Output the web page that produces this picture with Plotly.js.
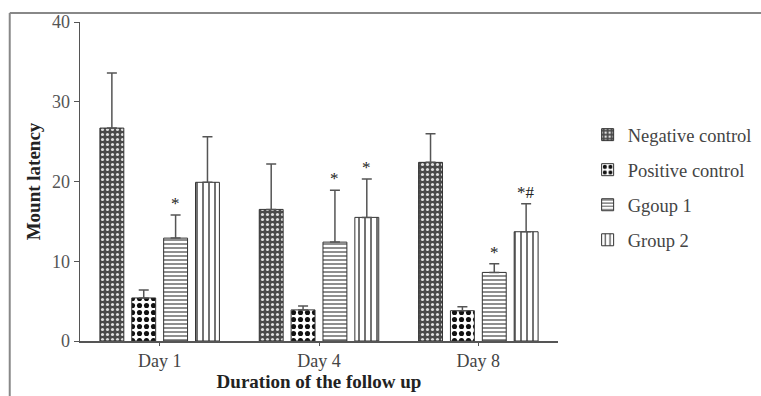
<!DOCTYPE html>
<html>
<head>
<meta charset="utf-8">
<script src="https://cdn.plot.ly/plotly-3.0.1.min.js"></script>
<style>
html,body{margin:0;padding:0;background:#fff;}
#chart{width:761px;height:396px;}
</style>
</head>
<body>
<div id="chart"></div>
<script>
// Data
var days = ["Day 1", "Day 4", "Day 8"];
var seriesNames = ["Negative control", "Positive control", "Ggoup 1", "Group 2"];
var negMean = [26.7, 16.5, 22.4];
var negErr  = [6.9, 5.7, 3.6];
var posMean = [5.4, 3.9, 3.8];
var posErr  = [1.0, 0.5, 0.5];
var g1Mean  = [12.9, 12.4, 8.6];
var g1Err   = [2.9, 6.5, 1.1];
var g2Mean  = [19.9, 15.5, 13.7];
var g2Err   = [5.7, 4.8, 3.5];
var sigG1   = ["*", "*", "*"];
var sigG2   = ["", "*", "*#"];
var yTicks  = [0, 10, 20, 30, 40];

var serif = "Liberation Serif, Times New Roman, serif";

function err(arr){
  return {type:"data", array:arr, arrayminus:arr.map(function(){return 0;}), symmetric:false,
          color:"#555", thickness:1.5, width:5, visible:true};
}

var outline = {color:"#333", width:1};
var traces = [
  {type:"bar", name:seriesNames[0], x:days, y:negMean, error_y:err(negErr), legendgroup:"a",
   marker:{color:"#4a4a4a", line:outline, pattern:{shape:".", fgcolor:"#e0e0e0", bgcolor:"#4a4a4a", size:5, solidity:0.3, fillmode:"replace"}}},
  {type:"bar", name:seriesNames[1], x:days, y:posMean, error_y:err(posErr), legendgroup:"b",
   marker:{color:"#ffffff", line:outline, pattern:{shape:".", fgcolor:"#111", bgcolor:"#fff", size:7, solidity:0.42, fillmode:"replace"}}},
  {type:"bar", name:seriesNames[2], x:days, y:g1Mean, error_y:err(g1Err), legendgroup:"c",
   marker:{color:"#ffffff", line:outline, pattern:{shape:"-", fgcolor:"#444", bgcolor:"#fff", size:4, solidity:0.3, fillmode:"replace"}}},
  {type:"bar", name:seriesNames[3], x:days, y:g2Mean, error_y:err(g2Err), legendgroup:"d",
   marker:{color:"#ffffff", line:outline, pattern:{shape:"|", fgcolor:"#444", bgcolor:"#fff", size:6, solidity:0.25, fillmode:"replace"}}}
];

// significance markers placed above error bars, computed from data
var annotations = [];
var nSeries = 4, slotOffset = function(k){ return (k - (nSeries-1)/2) * 0.8/nSeries; };
days.forEach(function(d, i){
  if (sigG1[i]) annotations.push({x:i + slotOffset(2), y:g1Mean[i]+g1Err[i], xref:"x", yref:"y", text:sigG1[i],
    showarrow:false, yanchor:"bottom", yshift:0, font:{family:serif, size:17, color:"#222"}});
  if (sigG2[i]) annotations.push({x:i + slotOffset(3), y:g2Mean[i]+g2Err[i], xref:"x", yref:"y", text:sigG2[i],
    showarrow:false, yanchor:"bottom", yshift:0, font:{family:serif, size:17, color:"#222"}});
});

var layout = {
  width:761, height:396,
  margin:{l:80, r:203, t:22, b:55, autoexpand:false},
  paper_bgcolor:"#fff", plot_bgcolor:"#fff",
  barmode:"group", bargap:0.2, bargroupgap:0.25,
  showlegend:true,
  legend:{x:1.062, y:0.705, xanchor:"left", yanchor:"top", font:{family:serif, size:18.5, color:"#444"},
          tracegroupgap:8, itemwidth:30, bgcolor:"rgba(0,0,0,0)"},
  xaxis:{type:"category", showline:true, linecolor:"#555", linewidth:1.5, ticks:"outside", ticklen:3, tickcolor:"#555",
         tickfont:{family:serif, size:18, color:"#444"}, showgrid:false, zeroline:false,
         title:{text:"<b>Duration of the follow up</b>", font:{family:serif, size:19, color:"#222"}, standoff:4}},
  yaxis:{range:[0,40], tickvals:yTicks, showline:true, linecolor:"#555", linewidth:1.5, ticks:"outside", ticklen:5, tickcolor:"#555",
         tickfont:{family:serif, size:18, color:"#555"}, showgrid:false, zeroline:false,
         title:{text:"<b>Mount latency</b>", font:{family:serif, size:19, color:"#222"}, standoff:6}},
  annotations:annotations,
  shapes:[
    {type:"line", xref:"paper", yref:"paper", x0:-0.147, x1:1.45, y0:1.028, y1:1.028, line:{color:"#888", width:2}},
    {type:"line", xref:"paper", yref:"paper", x0:-0.147, x1:-0.147, y0:1.028, y1:-0.2, line:{color:"#888", width:2}}
  ]
};

Plotly.newPlot("chart", traces, layout, {displayModeBar:false, staticPlot:true});
</script>
</body>
</html>
